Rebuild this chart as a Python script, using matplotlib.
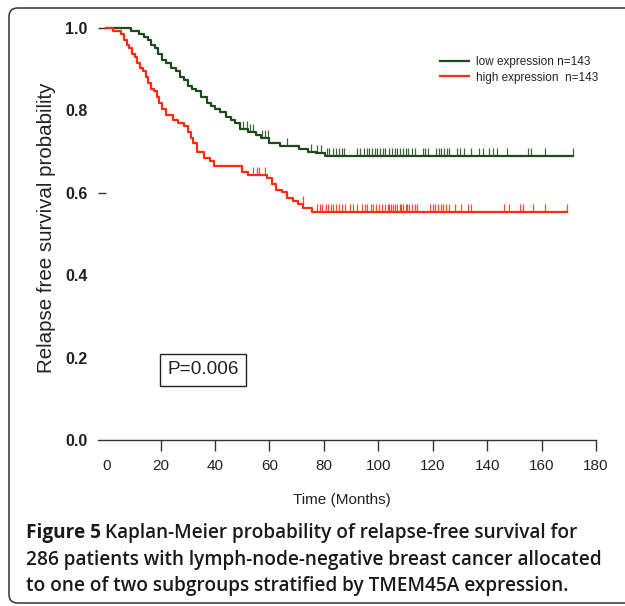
import numpy as np
import matplotlib
matplotlib.use("Agg")
import matplotlib.pyplot as plt
from matplotlib.patches import FancyBboxPatch

# --- data (months, survival) ---
low_times = [9, 12, 14, 15.5, 16.5, 18, 19, 20.5, 22, 24, 25.5, 27, 28.5, 30, 31.5, 33, 35, 37, 38.5,
             40, 42, 44, 46, 47.5, 49, 52, 55, 57, 60, 64, 71, 74, 77, 80.5]
low_surv = [0.993, 0.986, 0.979, 0.972, 0.958, 0.951, 0.937, 0.923, 0.916, 0.902, 0.895, 0.881, 0.874,
            0.860, 0.853, 0.846, 0.832, 0.818, 0.811, 0.804, 0.797, 0.783, 0.776, 0.769, 0.755, 0.748,
            0.741, 0.734, 0.720, 0.713, 0.706, 0.700, 0.697, 0.690]
low_end = 171.5
low_censor = [50.4, 51.8, 52.9, 54, 57.3, 58.4, 59.5, 66.5, 75.3, 77.5, 79, 81.1, 82.0, 83.5, 84.5,
              85.5, 86.5, 87.4, 92.3, 93.3, 94.8, 95.8, 96.7, 97.7, 98.7, 99.7, 100.7, 101.6, 102.6,
              104.1, 105.1, 106.1, 107.0, 108.0, 109.0, 110.0, 110.9, 112.4, 113.4, 116.3, 117.3,
              118.3, 121.2, 122.2, 123.2, 124.2, 125.2, 126.1, 128.8, 130.1, 131.5, 134.0, 136.9,
              138.4, 140.8, 142.3, 143.8, 147.2, 155.0, 156.0, 161.4, 171.5]

high_times = [2.6, 5.5, 6.5, 7.5, 8.5, 9.5, 10.5, 11.5, 12.5, 13.5, 14.5, 15.5, 16.5, 17.5, 18.5, 19.5,
              20.5, 22, 24.5, 26.5, 28.5, 30, 31, 32, 33.5, 36, 38, 39.5, 50, 52, 59, 61, 62.5, 64.5,
              66.5, 68.5, 70.5, 72.5, 75.5]
high_surv = [0.993, 0.986, 0.972, 0.958, 0.951, 0.937, 0.930, 0.916, 0.902, 0.895, 0.881, 0.867, 0.853,
             0.846, 0.832, 0.818, 0.804, 0.790, 0.776, 0.769, 0.762, 0.748, 0.734, 0.720, 0.699, 0.685,
             0.678, 0.664, 0.650, 0.643, 0.636, 0.622, 0.608, 0.601, 0.587, 0.580, 0.573, 0.563, 0.553]
high_end = 169.2
high_censor = [54, 55.5, 56.2, 58.4, 72.4, 77.4, 78.4, 79.4, 80.6, 81.6, 82.5, 83.5, 84.5, 85.7, 86.7,
               87.9, 89.6, 90.6, 92.3, 94.0, 95.0, 96.0, 97.2, 98.2, 99.2, 100.2, 101.4, 102.6, 103.4,
               104.1, 104.8, 105.5, 106.3, 107.0, 107.8, 108.5, 109.2, 110.0, 110.7, 111.4, 112.4,
               113.4, 114.4, 119.0, 120.0, 121.0, 122.0, 123.0, 123.9, 124.9, 125.9, 128.3, 130.5,
               133.0, 134.2, 146.2, 148.2, 152.1, 153.1, 157.0, 161.4, 169.2]

labels = ["low expression", "high expression"]
n_counts = [143, 143]
p_value = "P=0.006"
x_ticks = [0, 20, 40, 60, 80, 100, 120, 140, 160, 180]
y_ticks = [0.0, 0.2, 0.4, 0.6, 0.8, 1.0]

GREEN = "#1d4a1a"
RED = "#ff2a12"

W, H = 625, 606
fig = plt.figure(figsize=(W / 100, H / 100), dpi=100)

# rounded frame around the whole figure
frame = FancyBboxPatch((9 / W, 3 / H), 1.05, (603 - 8) / H, boxstyle="round,pad=0,rounding_size=0.014",
                       transform=fig.transFigure, fill=False, edgecolor="#333333", linewidth=1.1)
fig.patches.append(frame)

# axes: x from -3..180 -> px 98..596 ; y 0..1.03 -> py 440..
ax = fig.add_axes([98 / W, (H - 440) / H, 498 / W, 412 * 1.03 / H])
ax.set_xlim(-3, 180)
ax.set_ylim(0, 1.03)


def km_curve(times, surv, end):
    xs = [0] + list(times) + [end]
    ys = [1.0] + list(surv) + [surv[-1]]
    return np.array(xs), np.array(ys)


def level_at(times, surv, t):
    idx = np.searchsorted(times, t, side="right") - 1
    return 1.0 if idx < 0 else surv[idx]


for times, surv, end, cens, col in [(low_times, low_surv, low_end, low_censor, GREEN),
                                    (high_times, high_surv, high_end, high_censor, RED)]:
    xs, ys = km_curve(times, surv, end)
    ax.step(xs, ys, where="post", color=col, linewidth=1.6, clip_on=False)
    cy = np.array([level_at(times, surv, c) for c in cens])
    ax.vlines(cens, cy, cy + 0.019, color=col, linewidth=0.9, alpha=0.85, clip_on=False)

# spines and ticks
for side in ["top", "right", "left"]:
    ax.spines[side].set_visible(False)
ax.spines["bottom"].set_color("#333333")
ax.spines["bottom"].set_linewidth(1.0)

ax.set_xticks(x_ticks)
ax.set_xticklabels([str(v) for v in x_ticks], fontsize=11, family="Liberation Sans", color="#222222")
ax.tick_params(axis="x", length=8, width=1.0, color="#333333", pad=6)
ax.xaxis.get_major_ticks()[0].tick1line.set_visible(False)

ax.set_yticks(y_ticks)
ax.set_yticklabels([f"{v:.1f}" for v in y_ticks], fontsize=11.5, family="Liberation Sans",
                   fontweight="bold", color="#222222")
ax.tick_params(axis="y", direction="in", length=6, width=1.0, color="#333333", pad=7.5)
for tk, v in zip(ax.yaxis.get_major_ticks(), y_ticks):
    tk.tick1line.set_visible(v in (0.6, 1.0))

ax.set_xlabel("Time (Months)", fontsize=11, family="Liberation Sans", color="#222222")
ax.xaxis.set_label_coords(0.49, -0.125)
ax.set_ylabel("Relapse free survival probability", fontsize=14.8, family="Liberation Sans",
              color="#222222")
ax.yaxis.set_label_coords(-0.085, 0.5)

# legend
leg_handles = [plt.Line2D([], [], color=GREEN, linewidth=1.6),
               plt.Line2D([], [], color=RED, linewidth=1.6)]
leg_labels = [f"{labels[0]} n={n_counts[0]}", f"{labels[1]}  n={n_counts[1]}"]
ax.legend(leg_handles, leg_labels, loc="upper left", bbox_to_anchor=(0.665, 0.93), frameon=False,
          prop={"family": "Liberation Sans", "size": 8.5}, handlelength=2.5, handletextpad=0.6,
          labelspacing=0.3, labelcolor="#222222")

# p-value box
ax.text(35.6, 0.17, p_value, fontsize=13.7, family="Liberation Sans", color="#222222",
        ha="center", va="center",
        bbox=dict(boxstyle="square,pad=0.4", facecolor="white", edgecolor="#222222", linewidth=1.0))

# caption
cap_font = "Open Sans"
cap_size = 13.7
line_y = [533, 560, 586]
t1 = fig.text(26 / W, 1 - line_y[0] / H, "Figure 5", fontsize=cap_size, family=cap_font,
              fontweight="bold", color="#1a1a1a", va="center")
ax.annotate("Kaplan-Meier probability of relapse-free survival for", xy=(1, 0), xytext=(3, 0),
            xycoords=t1, textcoords="offset points",
            va="bottom", ha="left", fontsize=cap_size, family=cap_font, fontweight="semibold",
            color="#1a1a1a", annotation_clip=False)
fig.text(26 / W, 1 - line_y[1] / H, "286 patients with lymph-node-negative breast cancer allocated",
         fontsize=cap_size, family=cap_font, fontweight="semibold", color="#1a1a1a", va="center")
fig.text(26 / W, 1 - line_y[2] / H, "to one of two subgroups stratified by TMEM45A expression.",
         fontsize=cap_size, family=cap_font, fontweight="semibold", color="#1a1a1a", va="center")

fig.savefig("out.png", dpi=100)
